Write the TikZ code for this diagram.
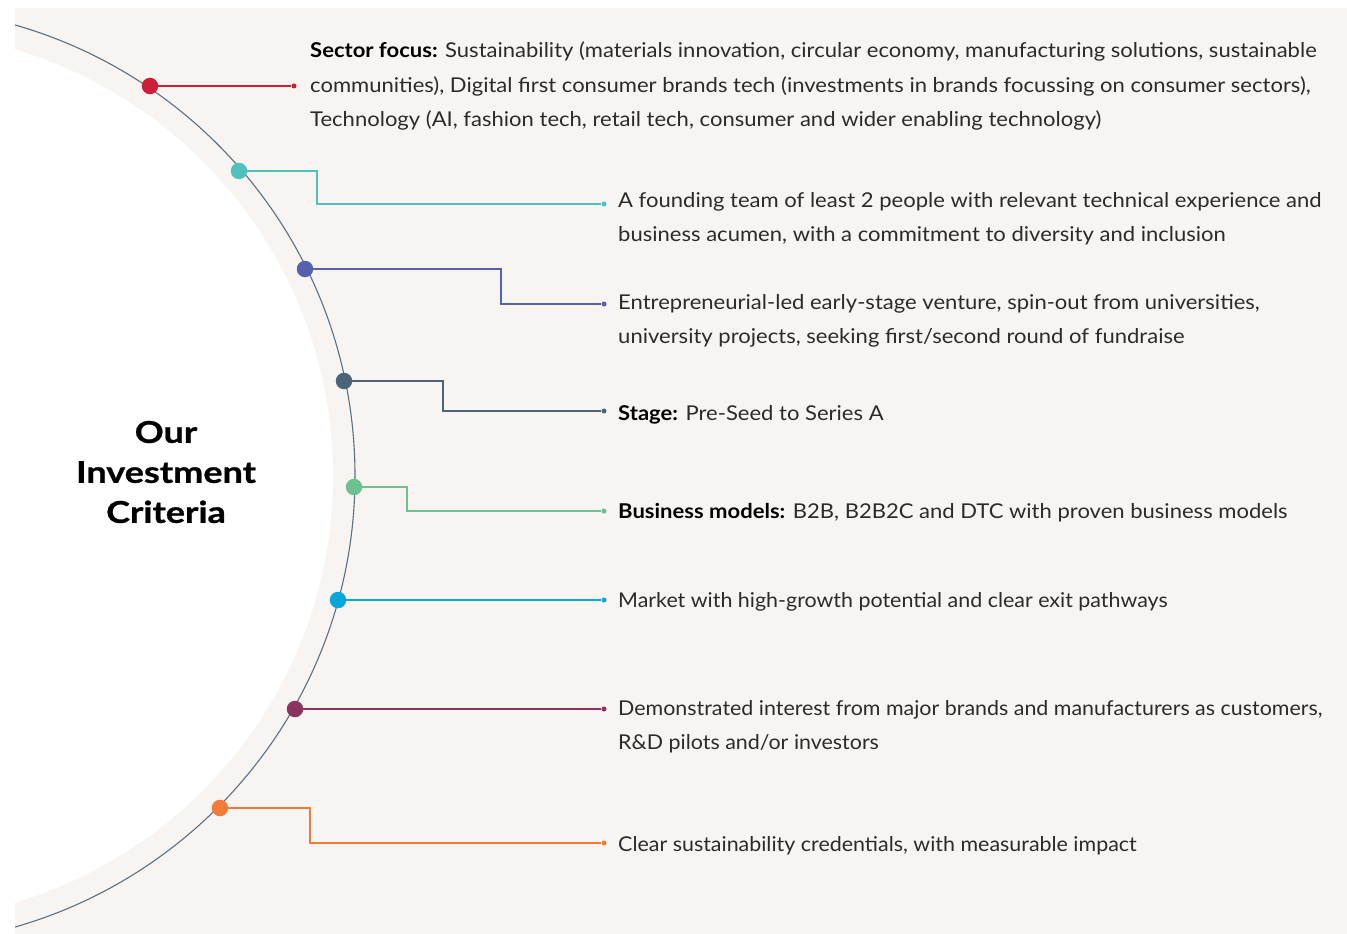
\documentclass[tikz,border=0pt]{standalone}
\usepackage{fontspec}
\setmainfont{Lato}[FakeStretch=1.08]
\newfontfamily\narrowfont{Lato}[FakeStretch=1.05]
\newfontfamily\titlefont{Lato}[FakeStretch=1.2, BoldFeatures={FakeBold=0.8}]
\definecolor{bg}{HTML}{F7F4F1}
\definecolor{arcc}{HTML}{5A7184}
\definecolor{txt}{HTML}{2B2B2B}
\definecolor{cA}{HTML}{CC1F3A}
\definecolor{cB}{HTML}{4FC2C0}
\definecolor{cC}{HTML}{5661AC}
\definecolor{cD}{HTML}{4B6479}
\definecolor{cE}{HTML}{6BC28F}
\definecolor{cF}{HTML}{0AA6D9}
\definecolor{cG}{HTML}{8A3461}
\definecolor{cH}{HTML}{F47A3A}
\tikzset{
  bigdot/.style={circle, inner sep=0pt, minimum size=16.5pt},
  smalldot/.style={circle, inner sep=0pt, minimum size=5pt},
  conn/.style={line width=1.4pt},
  item/.style={anchor=base west, inner sep=0pt, text=txt, font=\fontsize{20.4}{34.5}\selectfont},
  nitem/.style={item, font=\narrowfont\fontsize{20.4}{34.5}\selectfont},
}
\newcommand{\lines}[1]{\begin{tabular}[t]{@{}l@{}}#1\end{tabular}}
\begin{document}
\begin{tikzpicture}[x=1pt,y=-1pt]
\useasboundingbox (0,0) rectangle (1347,934);
\fill[white] (0,0) rectangle (1347,934);
\fill[bg] (15,8) rectangle (1347,934);
\begin{scope}
\clip (15,8) rectangle (1347,934);
\fill[white] (-112,476) circle[radius=445];
\draw[arcc, line width=1.1pt] (-114,476) circle[radius=469];
\end{scope}

% title
\node[align=center, font=\titlefont\fontsize{30}{40}\selectfont\bfseries, text=black] (title) at (166,472) {Our\\Investment\\Criteria};

% dots on arc
\node[bigdot, fill=cA] (d1) at (150,86) {};
\node[bigdot, fill=cB] (d2) at (239,171) {};
\node[bigdot, fill=cC] (d3) at (305,269) {};
\node[bigdot, fill=cD] (d4) at (344,381) {};
\node[bigdot, fill=cE] (d5) at (354,487) {};
\node[bigdot, fill=cF] (d6) at (338,600) {};
\node[bigdot, fill=cG] (d7) at (295,709) {};
\node[bigdot, fill=cH] (d8) at (220,808) {};

% end dots
\node[smalldot, fill=cA] (e1) at (294,86) {};
\node[smalldot, fill=cB] (e2) at (604,204) {};
\node[smalldot, fill=cC] (e3) at (604,304) {};
\node[smalldot, fill=cD] (e4) at (604,411) {};
\node[smalldot, fill=cE] (e5) at (604,511) {};
\node[smalldot, fill=cF] (e6) at (604,600) {};
\node[smalldot, fill=cG] (e7) at (604,709) {};
\node[smalldot, fill=cH] (e8) at (604,843) {};

% connectors
\draw[conn, cA] (d1) -- (e1);
\draw[conn, cB] (d2) -- (317,171) |- (e2);
\draw[conn, cC] (d3) -- (501,269) |- (e3);
\draw[conn, cD] (d4) -- (443,381) |- (e4);
\draw[conn, cE] (d5) -- (407,487) |- (e5);
\draw[conn, cF] (d6) -- (e6);
\draw[conn, cG] (d7) -- (e7);
\draw[conn, cH] (d8) -- (310,808) |- (e8);

% texts
\node[item] (t1) at (310,58) {\lines{\textbf{\color{black}Sector focus:} Sustainability (materials innovation, circular economy, manufacturing solutions, sustainable\\communities), Digital first consumer brands tech (investments in brands focussing on consumer sectors),\\Technology (AI, fashion tech, retail tech, consumer and wider enabling technology)}};
\node[item] (t2) at (618,207) {\lines{A founding team of least 2 people with relevant technical experience and\\business acumen, with a commitment to diversity and inclusion}};
\node[item] (t3) at (618,309) {\lines{Entrepreneurial-led early-stage venture, spin-out from universities,\\university projects, seeking first/second round of fundraise}};
\node[item] (t4) at (618,420) {\lines{\textbf{\color{black}Stage:} Pre-Seed to Series A}};
\node[item] (t5) at (618,518) {\lines{\textbf{\color{black}Business models:} B2B, B2B2C and DTC with proven business models}};
\node[nitem] (t6) at (618,607) {\lines{Market with high-growth potential and clear exit pathways}};
\node[nitem] (t7) at (618,715) {\lines{Demonstrated interest from major brands and manufacturers as customers,\\R\&D pilots and/or investors}};
\node[nitem] (t8) at (618,851) {\lines{Clear sustainability credentials, with measurable impact}};
\end{tikzpicture}
\end{document}
